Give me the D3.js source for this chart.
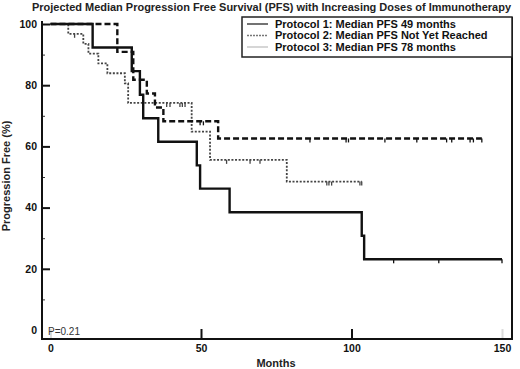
<!DOCTYPE html>
<html>
<head>
<meta charset="utf-8">
<script src="https://cdn.jsdelivr.net/npm/d3@7"></script>
<style>
  body { margin: 0; background: #fff; }
  svg { display: block; font-family: 'Liberation Sans', Arial, sans-serif; }
</style>
</head>
<body>
<div id="chart"></div>
<script>
// Kaplan-Meier steps (months, % progression free)
const p1Times = [0, 14, 27, 29.7, 30.8, 35.8, 48.6, 49.7, 59.5, 103.4, 104.2, 150];
const p1Surv = [100, 92.3, 84.6, 76.9, 69.2, 61.5, 53.8, 46.2, 38.5, 30.8, 23.1, 23.1];
const p1Censor = [114, 129, 150];

const p2Times = [0, 22.2, 27.5, 32, 34.7, 37.5, 55.7, 143.3];
const p2Surv = [100, 90.9, 81.8, 77.3, 72.7, 68.2, 62.6, 62.6];
const p2Censor = [49.7, 50.8, 86.2, 98.2, 99, 111.1, 121.7, 131.6, 133.3, 139.4, 140.5, 143.3];

const p3Times = [0, 5.9, 10.9, 12.6, 15.9, 18.9, 24.7, 25.8, 46.9, 53, 78.5, 103.4];
const p3Surv = [100, 96.8, 93.5, 90.3, 87.1, 83.9, 80.6, 74.2, 64.8, 55.6, 48.5, 48.5];
const p3Censor = [8, 38.6, 39.7, 43, 43.8, 44.7, 58.5, 66.3, 69.6, 91.8, 92.5, 93.4, 102.8, 103.4];

const legendLabels = [
  'Protocol 1: Median PFS 49 months',
  'Protocol 2: Median PFS Not Yet Reached',
  'Protocol 3: Median PFS 78 months'
];
const xTicks = [0, 50, 100, 150];
const yTicks = [0, 20, 40, 60, 80, 100];
const yMinor = [10, 30, 50, 70, 90];

const width = 520, height = 369;
const frame = { left: 42, right: 512, top: 17, bottom: 339 };

const svg = d3.select('#chart').append('svg')
  .attr('width', width)
  .attr('height', height);

const x = d3.scaleLinear().domain([0, 150]).range([50.5, 502]);
const y = d3.scaleLinear().domain([0, 100]).range([330, 24]);

// title
svg.append('text')
  .attr('x', 32)
  .attr('y', 11)
  .attr('textLength', 479)
  .attr('lengthAdjust', 'spacingAndGlyphs')
  .style('font-size', '10.5px')
  .style('font-weight', 'bold')
  .style('fill', '#222')
  .text('Projected Median Progression Free Survival (PFS) with Increasing Doses of Immunotherapy');

// axes
let yAxis = d3.axisLeft(y).tickValues(yTicks).tickSize(-8).tickPadding(5);
let gY = svg.append('g')
  .attr('transform', `translate(${frame.left},0)`)
  .call(yAxis);
gY.select('.domain').remove();
gY.selectAll('line')
  .attr('stroke', '#111')
  .attr('stroke-width', 2)
  .attr('opacity', d => d === 0 ? 0 : 1);
gY.selectAll('text')
  .style('font-size', '10.5px')
  .style('font-weight', 'bold')
  .style('fill', '#111')
  .style('font-family', "'Liberation Sans', Arial, sans-serif");

let gYm = svg.append('g')
  .attr('transform', `translate(${frame.left},0)`)
  .call(d3.axisLeft(y).tickValues(yMinor).tickSize(-3).tickFormat(''));
gYm.select('.domain').remove();
gYm.selectAll('line').attr('stroke', '#333').attr('stroke-width', 1);

let xAxis = d3.axisBottom(x).tickValues(xTicks).tickSize(-10).tickPadding(6);
let gX = svg.append('g')
  .attr('transform', `translate(0,${frame.bottom})`)
  .call(xAxis);
gX.select('.domain').remove();
gX.selectAll('line')
  .attr('stroke', '#111')
  .attr('stroke-width', 2)
  .attr('opacity', d => (d === 0 || d === 150) ? 0.15 : 1);
gX.selectAll('text')
  .style('font-size', '10.5px')
  .style('font-weight', 'bold')
  .style('fill', '#111')
  .style('font-family', "'Liberation Sans', Arial, sans-serif");

// frame lines
let frameG = svg.append('g').attr('stroke', '#111').attr('stroke-width', 2).attr('fill', 'none');
frameG.append('line').attr('x1', frame.left).attr('x2', frame.left).attr('y1', 21).attr('y2', frame.bottom + 1);
frameG.append('line').attr('x1', frame.left).attr('x2', frame.right + 1).attr('y1', frame.bottom).attr('y2', frame.bottom);
frameG.append('line').attr('x1', frame.right).attr('x2', frame.right).attr('y1', frame.top).attr('y2', frame.bottom + 1);

// axis titles
svg.append('text')
  .attr('x', 276)
  .attr('y', 367)
  .attr('text-anchor', 'middle')
  .style('font-size', '11px')
  .style('font-weight', 'bold')
  .style('fill', '#222')
  .text('Months');
svg.append('text')
  .attr('transform', 'translate(10,176) rotate(-90)')
  .attr('text-anchor', 'middle')
  .style('font-size', '11px')
  .style('font-weight', 'bold')
  .style('fill', '#222')
  .text('Progression Free (%)');

svg.append('text')
  .attr('x', 48)
  .attr('y', 335)
  .style('font-size', '10px')
  .style('fill', '#333')
  .text('P=0.21');

// curves
const series = [
  { times: p1Times, surv: p1Surv, censor: p1Censor, color: '#111', width: 2.4, dash: null },
  { times: p2Times, surv: p2Surv, censor: p2Censor, color: '#111', width: 2.4, dash: '6,3' },
  { times: p3Times, surv: p3Surv, censor: p3Censor, color: '#444', width: 1.8, dash: '2,1.6' }
];

let line = d3.line()
  .x(d => x(d[0]))
  .y(d => y(d[1]))
  .curve(d3.curveStepAfter);

let body = svg.append('g').attr('class', 'body');
series.slice().reverse().forEach(s => {
  let pts = s.times.map((t, i) => [t, s.surv[i]]);
  body.append('path')
    .attr('d', line(pts))
    .attr('fill', 'none')
    .attr('stroke', s.color)
    .attr('stroke-width', s.width)
    .attr('stroke-dasharray', s.dash);
  // censor ticks
  let level = t => {
    let idx = d3.bisectRight(s.times, t) - 1;
    return s.surv[Math.max(0, idx)];
  };
  body.selectAll(null)
    .data(s.censor)
    .enter()
    .append('line')
    .attr('x1', d => x(d))
    .attr('x2', d => x(d))
    .attr('y1', d => y(level(d)))
    .attr('y2', d => y(level(d)) + 4)
    .attr('stroke', s.color)
    .attr('stroke-width', 1.3);
});

// legend
let legend = svg.append('g');
legend.append('rect')
  .attr('x', 242)
  .attr('y', frame.top)
  .attr('width', frame.right - 242)
  .attr('height', 40)
  .attr('fill', '#fff')
  .attr('stroke', '#222')
  .attr('stroke-width', 1.5);
const legendStyles = [
  { color: '#444', width: 1.5, dash: null },
  { color: '#777', width: 1.5, dash: '2,1' },
  { color: '#bbb', width: 1.2, dash: null }
];
legendLabels.forEach((lab, i) => {
  let ly = 24 + i * 11.5;
  legend.append('line')
    .attr('x1', 247).attr('x2', 268)
    .attr('y1', ly).attr('y2', ly)
    .attr('stroke', legendStyles[i].color)
    .attr('stroke-width', legendStyles[i].width)
    .attr('stroke-dasharray', legendStyles[i].dash);
  legend.append('text')
    .attr('x', 275)
    .attr('y', ly)
    .attr('dy', '0.35em')
    .style('font-size', '11px')
    .style('font-weight', 'bold')
    .style('fill', '#111')
    .text(lab);
});
</script>
</body>
</html>
